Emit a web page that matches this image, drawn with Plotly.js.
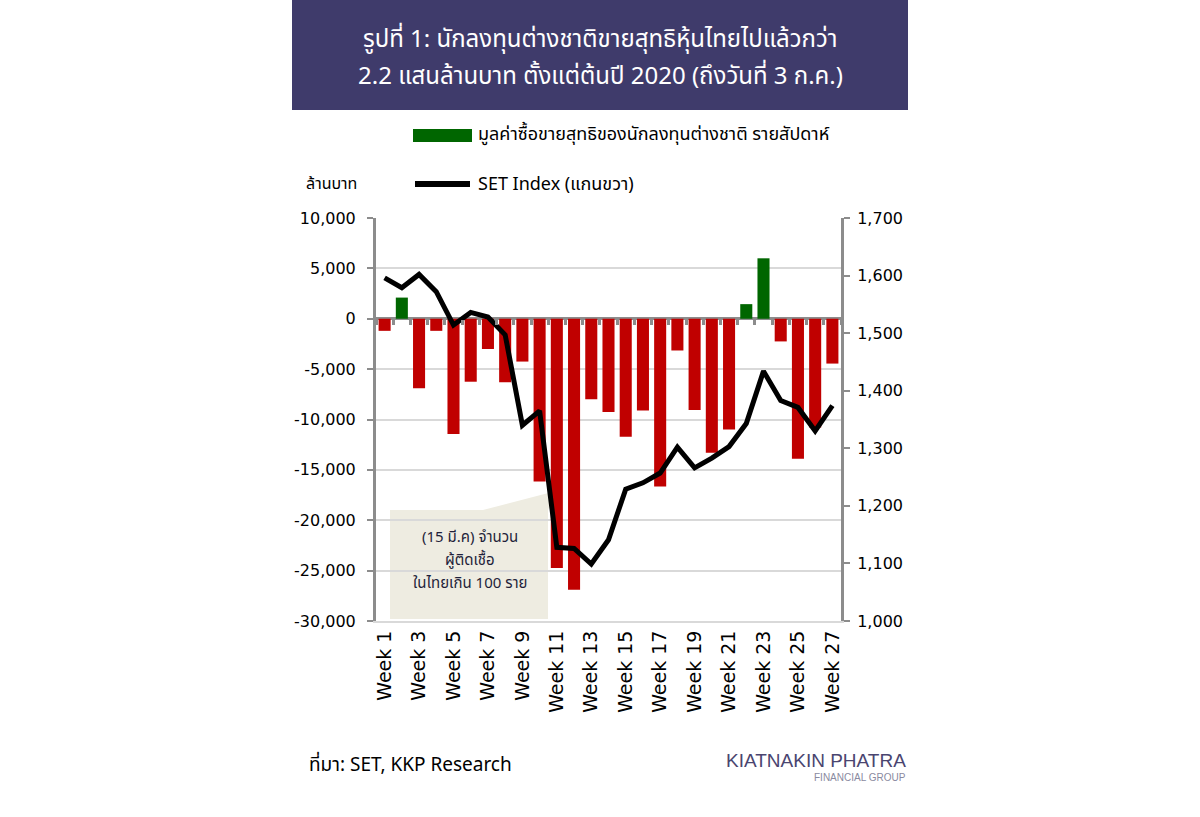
<!DOCTYPE html>
<html>
<head>
<meta charset="utf-8">
<script src="https://cdn.plot.ly/plotly-3.0.1.min.js"></script>
<style>
  html, body { margin: 0; padding: 0; background: #ffffff; }
  #chart { width: 1200px; height: 817px; }
</style>
</head>
<body>
<div id="chart"></div>
<script>
// ---- data ----
const weeks = ["Week 1","Week 2","Week 3","Week 4","Week 5","Week 6","Week 7","Week 8","Week 9",
  "Week 10","Week 11","Week 12","Week 13","Week 14","Week 15","Week 16","Week 17","Week 18",
  "Week 19","Week 20","Week 21","Week 22","Week 23","Week 24","Week 25","Week 26","Week 27"];
const netForeignFlow = [-1200, 2100, -6900, -1200, -11450, -6250, -3000, -6300, -4250,
  -16150, -24750, -26900, -8000, -9250, -11700, -9100, -16650, -3150,
  -9050, -13300, -11000, 1450, 6000, -2250, -13900, -10800, -4450];
const setIndex = [1596, 1579, 1602, 1572, 1514, 1536, 1528, 1497, 1340,
  1365, 1128, 1126, 1099, 1141, 1229, 1240, 1257, 1302,
  1266, 1283, 1303, 1343, 1434, 1383, 1371, 1330, 1374];
const shownWeekTicks = ["Week 1","Week 3","Week 5","Week 7","Week 9","Week 11","Week 13",
  "Week 15","Week 17","Week 19","Week 21","Week 23","Week 25","Week 27"];
const leftTickVals = [-30000, -25000, -20000, -15000, -10000, -5000, 0, 5000, 10000];
const leftTickText = ["-30,000", "-25,000", "-20,000", "-15,000", "-10,000", "-5,000", "0", "5,000", "10,000"];
const rightTickVals = [1000, 1100, 1200, 1300, 1400, 1500, 1600, 1700];
const rightTickText = ["1,000", "1,100", "1,200", "1,300", "1,400", "1,500", "1,600", "1,700"];

const titleLines = ["รูปที่ 1: นักลงทุนต่างชาติขายสุทธิหุ้นไทยไปแล้วกว่า", "2.2 แสนล้านบาท ตั้งแต่ต้นปี 2020 (ถึงวันที่ 3 ก.ค.)"];
const legendBarText = "มูลค่าซื้อขายสุทธิของนักลงทุนต่างชาติ รายสัปดาห์";
const legendLineText = "SET Index (แกนขวา)";
const leftUnitText = "ล้านบาท";
const calloutLines = ["(15 มี.ค) จำนวน", "ผู้ติดเชื้อ", "ในไทยเกิน 100 ราย"];
const sourceText = "ที่มา: SET, KKP Research";

const RED = "#c00000", GREEN = "#006600";
const thaiFont = "'Noto Sans Thai', 'Noto Sans', 'DejaVu Sans', sans-serif";
const numFont = "'DejaVu Sans', sans-serif";

const traces = [
  {
    type: "bar", x: weeks, y: netForeignFlow, xaxis: "x", yaxis: "y",
    marker: { color: netForeignFlow.map(v => v >= 0 ? GREEN : RED), line: { width: 0 } },
    showlegend: false, hoverinfo: "x+y"
  },
  {
    type: "scatter", mode: "lines", x: weeks, y: setIndex, xaxis: "x", yaxis: "y2",
    line: { color: "#000000", width: 5 }, showlegend: false
  },
  {
    type: "scatter", mode: "markers", x: weeks, y: weeks.map(() => null), xaxis: "x2", yaxis: "y",
    showlegend: false, hoverinfo: "skip"
  }
];

// helpers: convert picture pixels to paper coords (plot area 376..841 x 218..621)
const L = 376, R = 841, T = 218, B = 621;
const px = v => (v - L) / (R - L);
const py = v => (B - v) / (B - T);

const annotations = [];
titleLines.forEach((t, i) => annotations.push({
  xref: "paper", yref: "paper", x: px(600), y: py(40 + i * 37), xanchor: "center", yanchor: "middle",
  text: t, showarrow: false, font: { family: thaiFont, size: 24, color: "#ffffff" }
}));
calloutLines.forEach((t, i) => annotations.push({
  xref: "paper", yref: "paper", x: px(470), y: py(537 + i * 23), xanchor: "center", yanchor: "middle",
  text: t, showarrow: false, font: { family: thaiFont, size: 15, color: "#1f1f3a" }
}));
annotations.push(
  { xref: "paper", yref: "paper", x: px(476), y: py(135), xanchor: "left", yanchor: "middle",
    text: legendBarText, showarrow: false, font: { family: thaiFont, size: 18, color: "#000000" } },
  { xref: "paper", yref: "paper", x: px(476), y: py(184), xanchor: "left", yanchor: "middle",
    text: legendLineText, showarrow: false, font: { family: thaiFont, size: 18, color: "#000000" } },
  { xref: "paper", yref: "paper", x: px(304), y: py(184), xanchor: "left", yanchor: "middle",
    text: leftUnitText, showarrow: false, font: { family: thaiFont, size: 16, color: "#000000" } },
  { xref: "paper", yref: "paper", x: px(307), y: py(765), xanchor: "left", yanchor: "middle",
    text: sourceText, showarrow: false, font: { family: thaiFont, size: 19, color: "#000000" } },
  { xref: "paper", yref: "paper", x: px(908), y: py(760), xanchor: "right", yanchor: "middle",
    text: "KIATNAKIN PHATRA", showarrow: false,
    font: { family: "'Liberation Sans', sans-serif", size: 19, color: "#4a4570" } },
  { xref: "paper", yref: "paper", x: px(908), y: py(777), xanchor: "right", yanchor: "middle",
    text: "FINANCIAL GROUP", showarrow: false,
    font: { family: "'Liberation Sans', sans-serif", size: 10, color: "#8a8aa0" } }
);

const layout = {
  width: 1200, height: 817,
  margin: { l: L, r: 1200 - R, t: T, b: 817 - B },
  paper_bgcolor: "#ffffff", plot_bgcolor: "#ffffff",
  bargap: 0.3,
  xaxis: {
    type: "category", range: [-0.5, 26.5],
    tickmode: "array", tickvals: shownWeekTicks, ticktext: shownWeekTicks,
    tickangle: -90, tickfont: { family: numFont, size: 19, color: "#000000" },
    ticks: "", showgrid: false, zeroline: false,
    showline: true, linecolor: "#d9d9d9", linewidth: 2
  },
  xaxis2: {
    type: "category", overlaying: "x", anchor: "free", position: 0.75, side: "bottom",
    range: [-0.5, 26.5], tickmode: "array", tickvals: weeks,
    ticks: "outside", tickson: "boundaries", ticklen: 5, tickwidth: 3, tickcolor: "#8c8c8c",
    showticklabels: false, showgrid: false, zeroline: false, showline: false
  },
  yaxis: {
    range: [-30000, 10000], tickmode: "array", tickvals: leftTickVals, ticktext: leftTickText,
    tickfont: { family: numFont, size: 16, color: "#000000" },
    showgrid: true, gridcolor: "#d9d9d9", gridwidth: 2,
    zeroline: true, zerolinecolor: "#8c8c8c", zerolinewidth: 3,
    showline: true, linecolor: "#8c8c8c", linewidth: 3,
    ticks: "outside", ticklen: 6, tickwidth: 2, tickcolor: "#8c8c8c",
    ticklabelstandoff: 8
  },
  yaxis2: {
    overlaying: "y", side: "right", range: [1000, 1700],
    tickmode: "array", tickvals: rightTickVals, ticktext: rightTickText,
    tickfont: { family: numFont, size: 16, color: "#000000" },
    showgrid: false, zeroline: false,
    showline: true, linecolor: "#8c8c8c", linewidth: 3,
    ticks: "outside", ticklen: 6, tickwidth: 2, tickcolor: "#8c8c8c",
    ticklabelstandoff: 4
  },
  shapes: [
    { type: "rect", xref: "paper", yref: "paper", x0: px(292), x1: px(908), y0: py(110), y1: py(-2),
      fillcolor: "#3f3b6b", line: { width: 0 }, layer: "below" },
    { type: "rect", xref: "paper", yref: "paper", x0: px(413), x1: px(472), y0: py(142), y1: py(129),
      fillcolor: GREEN, line: { width: 0 } },
    { type: "line", xref: "paper", yref: "paper", x0: px(415), x1: px(470), y0: py(184), y1: py(184),
      line: { color: "#000000", width: 6 } },
    { type: "rect", xref: "paper", yref: "paper", x0: px(390), x1: px(548), y0: py(619), y1: py(510),
      fillcolor: "#eeece1", line: { width: 0 }, layer: "between" },
    { type: "path", xref: "paper", yref: "paper",
      path: `M ${px(483)} ${py(510)} L ${px(556)} ${py(491)} L ${px(548)} ${py(510)} Z`,
      fillcolor: "#eeece1", line: { width: 0 }, layer: "between" }
  ],
  annotations: annotations
};

Plotly.newPlot("chart", traces, layout, { displayModeBar: false, staticPlot: true });
</script>
</body>
</html>
